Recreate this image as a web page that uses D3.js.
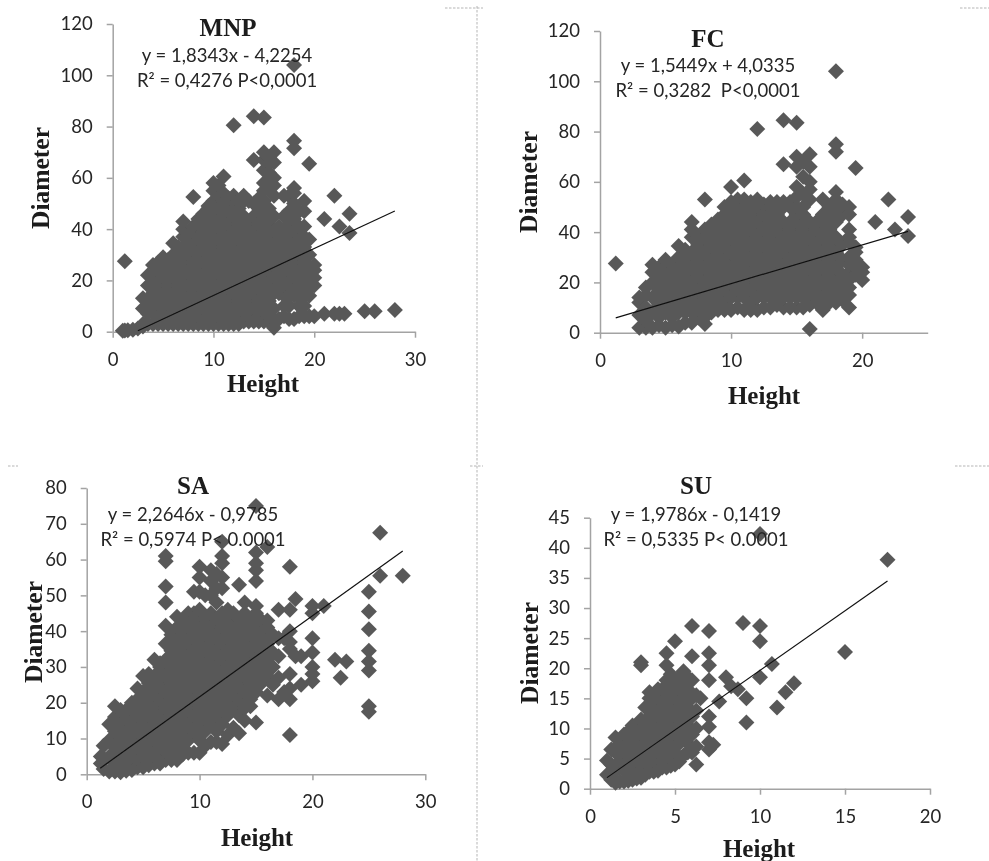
<!DOCTYPE html>
<html>
<head>
<meta charset="utf-8">
<script src="https://cdn.jsdelivr.net/npm/d3@7/dist/d3.min.js"></script>
<style>
html,body{margin:0;padding:0;background:#fff;}
svg{display:block;}
</style>
</head>
<body>
<svg id="chart" width="989" height="861"></svg>
<script>
// ---------- MNP ----------
const mnpHeights = [1,1.2,1.5,2,2.5,3,3.5,4,4.5,5,5.5,6,6.5,7,7.5,8,8.5,9,9.5,10,10.5,11,11.5,12,12.5,13,13.5,14,14.5,15,15.5,16,16.5,17,17.5,18,18.5,19,19.5,20,21,22,22.5,23,23.5,25,26,28];
const mnpDiameters = [
 [0.4],[27.5,0.5],[0.6],[0.8],[1.2],
 [2,3,9,13],[3,7,12,18,22],[3,9,15,21,26],[3,6,12,18,24,27],[3,9,15,21,27,29],
 [3,6,12,18,24,28],[3,9,15,21,27,30,34.5],[3,6,12,18,24,30,33],[3,9,15,21,27,33,37,40,43],[3,6,12,18,24,30,36,38],
 [3,9,15,21,27,33,39,41,52.5],[3,6,12,18,24,30,36,42,44],[3,9,15,21,27,33,39,45,46],[3,6,12,18,24,30,36,42,48,49],
 [3,9,15,21,27,33,39,45,51,55,58],[3,6,12,18,24,30,36,42,48,53,57],[3,9,15,21,27,33,39,45,51,54,60.5],[3,6,12,18,24,30,36,42,48,52],
 [3,9,15,21,27,33,39,45,51,53,80.5],[3,6,12,18,24,30,36,42,48,51],[4,9,15,21,27,33,39,45,51,53],[4,6,12,18,24,30,36,42,51],
 [4,9,15,21,27,33,39,45,50,67,84],[4,6,12,18,24,30,36,42,48,52],[4,9,15,21,27,33,39,45,51,55,58,63,67,70,83.5],[4,6,12,18,24,30,36,42,48,56,62,66,68],
 [1.5,5,9,15,21,27,33,39,45,53,57,60,66,70],[5,15,18,24,30,36,41],[6,10,14,18,21,27,33,39,45,53],[5,10,14,18,24,30,36,42,47,53],
 [5,14,17,21,27,33,39,44,50,54,56,71.5,74.5,104],[6,10,14,18,24,30,36,41,47],[6,10,14,18,21,27,33,37,41,47,51],[6,14,17,21,24,30,36,65.5],[6,18,21,24,26],
 [7,44],[7,53],[7,41],[7],[46,38.5],[8],[8],[8.5]
];
const mnpTrendX = [2.5,28];
const mnpTrendY = [0.4,47.1];

// ---------- FC ----------
const fcHeights = [1.2,3,3.5,4,4.5,5,5.5,6,6.5,7,7.5,8,8.5,9,9.5,10,10.5,11,11.5,12,12.5,13,13.5,14,14.5,15,15.5,16,16.5,17,17.5,18,18.5,19,19.5,20,21,22,22.5,23.5];
const fcDiameters = [
 [27.5],[2,7,12,14],[2,5,10,15,18],[2,8,14,20,24,27],[3,6,11,17,23,26],[2,8,14,20,26,29],[3,6,11,17,23,27],
 [2.5,8,14,20,26,30,34.5],[4,8,11,17,23,29,33],[4,8,11,14,20,26,32,38,41,44],[6,9,11,17,23,29,35,38],[3.5,6,9,14,20,26,32,38,41,53],[8,11,14,17,23,29,35,41,43],
 [9,14,20,26,32,38,44,45],[9,11,14,17,23,29,35,41,47,50],[9,14,20,26,32,38,44,50,52,58],[10,14,17,23,29,35,41,47,53],[9,14,20,26,32,38,44,50,53,60.5],[9,11,14,17,23,29,35,41,47,52],
 [9,14,20,26,32,38,44,50,53,81],[10,14,17,23,29,35,41,47,51],[10,14,20,26,32,38,44,50,52],[11,14,17,23,29,35,41,47,50,52],[10,14,20,26,32,38,44,50,52,67,84.5],[10,14,17,23,29,35,41,44,50,52],
 [10,14,20,26,32,38,44,47,50,54,58,66,70,83.5],[10,14,17,23,29,35,41,47,50,55,62,68],[1.5,11,14,20,26,32,38,44,53,57,60,66,71],[12,14,17,23,29,35,41,44],[9,12,14,20,26,32,38,44,47,53],[12,14,17,23,29,35,41,44,50],
 [12,15,18,20,26,32,38,44,47,50,53,56,72,75,104],[13,15,17,20,23,29,35,47,51],[10,15,18,21,24,27,30,36,38,41,47,50],[23,26,29,32,34,65.5],[21,24,26],[44],[53],[41],[46,38.5]
];
const fcTrendX = [1.2,23.5];
const fcTrendY = [5.9,40.3];

// ---------- SA ----------
const saHeights = [1.25,1.5,2,2.5,3,3.5,4,4.5,5,5.5,6,6.5,7,7.5,8,8.5,9,9.5,10,10.5,11,11.5,12,12.5,13,13.5,14,14.5,15,15.5,16,16.5,17,17.5,18,18.5,19,20,21,22,22.5,23,25,26,28];
const saDiameters = [
 [3,5],[1.5,4.5,8],[0.8,5,9.5,14],[0.8,3,7.5,12,16,19],[0.6,3,5,9.5,14,18],[1,3,7.5,12,16.5,18],[1.2,3,5,9.5,14,18.5,20],[2,4.5,7.5,12,16.5,21,24],
 [2,5,9.5,14,18.5,23,27.5],[2.5,5,7.5,12,16.5,21,25.5,28],[3,5,9.5,14,18.5,23,27.5,32],[3,5,7.5,12,16.5,21,25.5,30,31],
 [4,6.5,9.5,14,18.5,23,27.5,32,36.5,41.5,48,52.5,59.5,61],[4,7.5,12,16.5,21,25.5,30,34.5,39],[4,6.5,9.5,14,18.5,23,27.5,32,36.5,41,44],[5.5,7.5,12,16.5,21,25.5,30,34.5,39,43],
 [6,9.5,14,18.5,23,27.5,32,36.5,41,45],[6,12,16.5,21,25.5,30,34.5,39,43.5,45,51],[6,9.5,14,18.5,23,27.5,32,36.5,41,45,46,51,55,58],[8,12,16.5,21,25.5,30,34.5,39,43.5,50],
 [9,14,18.5,23,27.5,32,36.5,41,45,50,54,57],[9,12,16.5,21,25.5,30,34.5,39,43.5,48,52,56],[8.5,14,18.5,23,27.5,32,36.5,41,45,52,55,59,61,65],[11,16.5,21,25.5,30,34.5,39,43.5,46],
 [13,18.5,23,27.5,32,36.5,41,45],[11.5,16.5,21,25.5,30,34.5,39,43.5,53],[15,18.5,23,27.5,32,36.5,41,45,48],[19,21,25.5,30,34.5,39,43.5],
 [14.5,23,27.5,32,36.5,41,45,47,54,57,59,62,75],[25.5,30,34.5,39,43],[22,27.5,32,36.5,41,43,63.5],[25,30,34,39],[21,27,33,38,46],[23,38],
 [11,21,24,28,35,37,40,46,58],[33,49],[25,33],[26,28,30,34,38,45,47],[47],[32],[27],[31.5],[51,45.5,40.5,34.5,31.5,29,19,17.5],[67.5,55.5],[55.5]
];
const saTrendX = [1.2,28];
const saTrendY = [1.7,62.4];

// ---------- SU ----------
const suHeights = [1,1.25,1.5,1.75,2,2.25,2.5,2.75,3,3.25,3.5,3.75,4,4.25,4.5,4.75,5,5.25,5.5,5.75,6,6.25,6.5,7,7.25,7.6,8,8.3,8.7,9,9.2,10,10.7,11,11.5,12,15,17.5];
const suDiameters = [
 [2.3,4.7],[1.5,4,6.5],[1,3,6,8.5],[1.2,4.5,7.5],[1.2,3,6,9],[1.3,4.5,7.5,9.5],[1.5,3,6,9,10.5],[1.7,4.5,7.5,10.5],[1.8,3,6,9,11.5,20.5,21],[2.3,4.5,7.5,10.5,13.5],
 [2.8,6,9,12,15,16],[2.8,4.5,7.5,10.5,13.5,15.5],[3,6,9,12,15,16.5],[3.5,4.5,7.5,10.5,13.5,16.5],[3.5,6,9,12,15,18,20.5,22.5],[3.8,5,7.5,10.5,13.5,16.5,19],[4,6,9,12,15,18,24.5],
 [4.5,7.5,10.5,13.5,16.5,18.5],[5.5,9,12,15,18,19.5],[6,7.5,10.5,13.5,16.5,18.5],[6,9,12,15,18,22,27],[4,7,10,13,15.5],[15],
 [26.2,22.5,20.5,18,12,10.3,7.7,6.5],[7.3],[14.5],[18.5],[17],[16.5],[27.5],[15,11],[42.3,27,24.5,18.5],[20.7],[13.5],[16],[17.5],[22.7],[38]
];
const suTrendX = [1,17.5];
const suTrendY = [1.84,34.5];

// ---------- labels ----------
const panelNames = ["MNP","FC","SA","SU"];
const equationLines = ["y = 1,8343x - 4,2254","y = 1,5449x + 4,0335","y = 2,2646x - 0,9785","y = 1,9786x - 0,1419"];
const fitLines = ["R² = 0,4276 P<0,0001","R² = 0,3282  P<0,0001","R² = 0,5974 P< 0.0001","R² = 0,5335 P< 0.0001"];
const xTickValues = [[0,10,20,30],[0,10,20],[0,10,20,30],[0,5,10,15,20]];
const yTickValues = [[0,20,40,60,80,100,120],[0,20,40,60,80,100,120],[0,10,20,30,40,50,60,70,80],[0,5,10,15,20,25,30,35,40,45]];
const xMaximums = [30,25,30,20];
const yMaximums = [120,120,80,45];
const allHeights = [mnpHeights,fcHeights,saHeights,suHeights];
const allDiameters = [mnpDiameters,fcDiameters,saDiameters,suDiameters];
const allTrendX = [mnpTrendX,fcTrendX,saTrendX,suTrendX];
const allTrendY = [mnpTrendY,fcTrendY,saTrendY,suTrendY];

// ---------- layout (pixels) ----------
const layout = [
 {x0:112.7,x1:415,y0:331.7,y1:24,  title:[228,36], eq:[227,62,87],  hl:[263,392], dl:[49,178]},
 {x0:600,x1:927.7,y0:332.7,y1:31,  title:[708,47], eq:[708,72,97],  hl:[764,404], dl:[537,182]},
 {x0:86.7,x1:425.3,y0:774.3,y1:488,title:[193,494],eq:[193,521,546],hl:[257,846], dl:[42,632]},
 {x0:590,x1:930,y0:788.7,y1:517.7, title:[696,494],eq:[696,521,546],hl:[759,857], dl:[538,653]}
];
const markColor = "#595959", axisColor = "#a3a3a3", textColor = "#262626", frameColor = "#b5b5b5";
const sansFont = "Lato, 'Open Sans', sans-serif", serifFont = "'Liberation Serif', serif";

const svg = d3.select("#chart");
svg.append("defs").append("filter").attr("id","soft")
  .attr("x",0).attr("y",0).attr("width","100%").attr("height","100%")
  .append("feGaussianBlur").attr("stdDeviation",0.45);
const root = svg.append("g").attr("filter","url(#soft)");
root.append("rect").attr("width",989).attr("height",861).attr("fill","#fff");
const diamond = d3.symbol().type(d3.symbolSquare).size(128)();

// dashed frame fragments of the source document
const dashes = [[477,6,477,861],[445,8,483,8],[960,8,989,8],[8,466,18,466],[470,466,483,466],[955,466,989,466]];
root.append("g").selectAll("line").data(dashes).join("line")
  .attr("x1",d=>d[0]).attr("y1",d=>d[1]).attr("x2",d=>d[2]).attr("y2",d=>d[3])
  .attr("stroke",frameColor).attr("stroke-width",1).attr("stroke-dasharray","2.5,1.5");

panelNames.forEach((name,i)=>{
  const L = layout[i];
  const x = d3.scaleLinear().domain([0,xMaximums[i]]).range([L.x0,L.x1]);
  const y = d3.scaleLinear().domain([0,yMaximums[i]]).range([L.y0,L.y1]);
  const g = root.append("g").attr("class","panel-"+name);

  // axes
  const ax = g.append("g").attr("transform",`translate(0,${L.y0})`)
    .call(d3.axisBottom(x).tickValues(xTickValues[i]).tickSize(6).tickPadding(15).tickSizeOuter(0));
  const ay = g.append("g").attr("transform",`translate(${L.x0},0)`)
    .call(d3.axisLeft(y).tickValues(yTickValues[i]).tickSize(6).tickPadding(14).tickSizeOuter(0));
  [ax,ay].forEach(a=>{
    a.selectAll(".domain,line").attr("stroke",axisColor).attr("stroke-width",1.5);
    a.selectAll("text").attr("font-family",sansFont).attr("font-size",18.5).attr("fill",textColor);
  });

  // points
  const pts = allHeights[i].flatMap((h,k)=>allDiameters[i][k].map(d=>[h,d]));
  g.append("g").selectAll("path").data(pts).join("path")
    .attr("d",diamond).attr("fill",markColor)
    .attr("transform",d=>`translate(${x(d[0])},${y(d[1])}) rotate(45)`);

  // trend line
  g.append("line")
    .attr("x1",x(allTrendX[i][0])).attr("y1",y(allTrendY[i][0]))
    .attr("x2",x(allTrendX[i][1])).attr("y2",y(allTrendY[i][1]))
    .attr("stroke","#111").attr("stroke-width",1.2);

  // text
  const serif = (t,px,py,size)=>g.append("text").text(t).attr("x",px).attr("y",py)
    .attr("text-anchor","middle").attr("font-family",serifFont).attr("font-weight","bold")
    .attr("font-size",size).attr("fill","#1a1a1a");
  serif(name,L.title[0],L.title[1],25);
  serif("Height",L.hl[0],L.hl[1],25);
  serif("Diameter",L.dl[0],L.dl[1],25.5)
    .attr("x",0).attr("y",0).attr("transform",`translate(${L.dl[0]},${L.dl[1]}) rotate(-90)`);
  [equationLines[i],fitLines[i]].forEach((t,k)=>{
    g.append("text").text(t).attr("x",L.eq[0]).attr("y",L.eq[k+1])
      .attr("text-anchor","middle").attr("font-family",sansFont)
      .attr("font-size",18.5).attr("fill",textColor).style("white-space","pre");
  });
});
</script>
</body>
</html>
